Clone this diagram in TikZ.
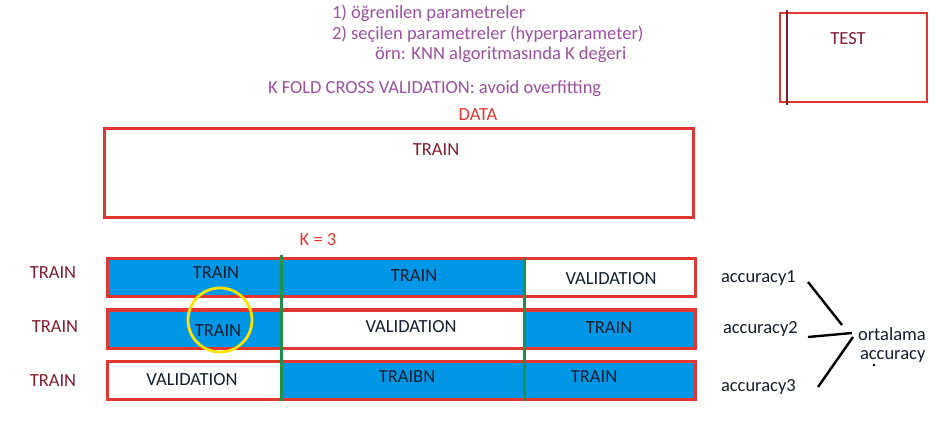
\documentclass[tikz,border=0pt]{standalone}
\usepackage{fontspec}
\setmainfont{Carlito}
\begin{document}
\begin{tikzpicture}[x=1pt,y=-1pt,
  every node/.style={inner sep=0pt,outer sep=0pt},
  fs/.style={font=\fontsize{18.5}{22}\selectfont},
  txt/.style={fs,text=cellink},
  purp/.style={fs,text=purp},
  dred/.style={fs,text=dredc},
  cell/.style={draw=redb,line width=3pt,anchor=north west},
  blue/.style={cell,fill=bluef},
  white/.style={cell,fill=white},
  greenl/.style={draw=greenc,line width=3pt},
  blk/.style={draw=black,line width=2.4pt}]
\definecolor{purp}{RGB}{155,80,160}
\definecolor{dredc}{RGB}{130,30,45}
\definecolor{redb}{RGB}{225,55,50}
\definecolor{bluef}{RGB}{0,150,230}
\definecolor{cellink}{RGB}{20,30,45}
\definecolor{greenc}{RGB}{30,145,70}
\useasboundingbox[fill=white] (0,0) rectangle (936,435);
% header texts
\node[purp,anchor=west] (l1) at (332,13) {1) öğrenilen parametreler};
\node[purp,anchor=west] (l2) at (332,34) {2) seçilen parametreler (hyperparameter)};
\node[purp,anchor=west] (l3) at (375,55) {örn: KNN algoritmasında K değeri};
\node[purp,anchor=west] (l4) at (268,89) {K FOLD CROSS VALIDATION: avoid overfitting};
% test box
\node[draw=redb,line width=2.6pt,anchor=north west,minimum width=147,minimum height=89] (test) at (780,13) {};
\draw[draw=dredc,line width=2.6pt] (787,10) coordinate (t1) -- (787,105) coordinate (t2);
\node[dred] (testt) at (848,39) {TEST};
% data
\node[fs,text=redb] (data) at (478,115) {DATA};
\node[draw=redb,line width=3pt,anchor=north west,minimum width=589,minimum height=89] (big) at (104,129) {};
\node[dred] (bigt) at (436,150) {TRAIN};
\node[fs,text=redb] (k) at (318,240) {K = 3};
% rows
\node[blue,minimum width=174,minimum height=38] (a1) at (107,259) {};
\node[blue,minimum width=243,minimum height=38] (a2) at (281,259) {};
\node[white,minimum width=171,minimum height=38] (a3) at (524,259) {};
\node[blue,minimum width=174,minimum height=38] (b1) at (107,310) {};
\node[white,minimum width=243,minimum height=38] (b2) at (281,310) {};
\node[blue,minimum width=171,minimum height=38] (b3) at (524,310) {};
\node[white,minimum width=174,minimum height=38] (c1) at (107,361) {};
\node[blue,minimum width=243,minimum height=38] (c2) at (281,361) {};
\node[blue,minimum width=171,minimum height=38] (c3) at (524,361) {};
\coordinate (g1t) at (281,255); \coordinate (g1b) at (281,401);
\coordinate (g2t) at (524,258); \coordinate (g2b) at (524,401);
\draw[greenl] (g1t) -- (g1b);
\draw[greenl] (g2t) -- (g2b);
% cell texts
\node[txt] (ta1) at (216,273) {TRAIN};
\node[txt] (ta2) at (414,276) {TRAIN};
\node[txt] (ta3) at (611,279) {VALIDATION};
\node[txt] (tb1) at (218,331) {TRAIN};
\node[txt] (tb2) at (411,327) {VALIDATION};
\node[txt] (tb3) at (609,328) {TRAIN};
\node[txt] (tc1) at (192,380) {VALIDATION};
\node[txt] (tc2) at (407,377) {TRAIBN};
\node[txt] (tc3) at (594,377) {TRAIN};
% left labels
\node[dred] (la) at (53,273) {TRAIN};
\node[dred] (lb) at (55,327) {TRAIN};
\node[dred] (lc) at (53,381) {TRAIN};
% yellow circle
\draw[draw=yellow!85!orange,line width=2.8pt] (220,320) circle (32);
% accuracies
\node[txt,anchor=west] (acc1) at (721,278) {accuracy1};
\node[txt,anchor=west] (acc2) at (723,329) {accuracy2};
\node[txt,anchor=west] (acc3) at (721,387) {accuracy3};
\node[txt,anchor=west] (ort) at (858,334) {ortalama};
\node[txt,anchor=west] (ort2) at (860,356) {accuracy};
\coordinate (p1) at (808,282); \coordinate (q1) at (842,325);
\coordinate (p2) at (808,337); \coordinate (q2) at (852,333);
\coordinate (p3) at (818,387); \coordinate (q3) at (853,337);
\draw[blk] (p1) -- (q1);
\draw[blk] (p2) -- (q2);
\draw[blk] (p3) -- (q3);
\fill[black] (874,365) circle (1.3);
\end{tikzpicture}
\end{document}
